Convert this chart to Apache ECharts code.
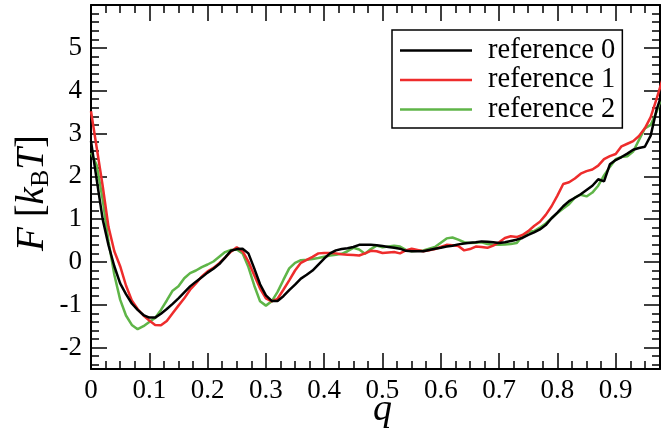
<!DOCTYPE html>
<html>
<head>
<meta charset="utf-8">
<script src="https://cdn.jsdelivr.net/npm/echarts@6/dist/echarts.min.js"></script>
<style>
html,body{margin:0;padding:0;background:#fff;}
#chart{width:661px;height:436px;}
</style>
</head>
<body>
<div id="chart"></div>
<script>
const q = [0,0.01,0.02,0.03,0.04,0.05,0.06,0.07,0.08,0.09,
0.10,0.11,0.12,0.13,0.14,0.15,0.16,0.17,0.18,0.19,
0.20,0.21,0.22,0.23,0.24,0.25,0.26,0.27,0.28,0.29,
0.30,0.31,0.32,0.33,0.34,0.35,0.36,0.37,0.38,0.39,
0.40,0.41,0.42,0.43,0.44,0.45,0.46,0.47,0.48,0.49,
0.50,0.51,0.52,0.53,0.54,0.55,0.56,0.57,0.58,0.59,
0.60,0.61,0.62,0.63,0.64,0.65,0.66,0.67,0.68,0.69,
0.70,0.71,0.72,0.73,0.74,0.75,0.76,0.77,0.78,0.79,
0.80,0.81,0.82,0.83,0.84,0.85,0.86,0.87,0.88,0.89,
0.90,0.91,0.92,0.93,0.94,0.95,0.96,0.97,0.98];

const ref0 = [2.82,1.90,1.00,0.39,-0.10,-0.50,-0.75,-0.97,-1.12,-1.24,
-1.30,-1.30,-1.21,-1.10,-0.98,-0.85,-0.71,-0.57,-0.46,-0.36,
-0.25,-0.16,-0.05,0.10,0.26,0.30,0.31,0.20,-0.15,-0.52,
-0.78,-0.91,-0.91,-0.80,-0.66,-0.53,-0.39,-0.30,-0.20,-0.06,
0.08,0.20,0.27,0.30,0.32,0.35,0.40,0.40,0.40,0.39,
0.37,0.35,0.33,0.31,0.26,0.25,0.25,0.25,0.28,0.31,
0.33,0.36,0.38,0.41,0.43,0.45,0.46,0.48,0.47,0.46,
0.44,0.46,0.49,0.52,0.56,0.63,0.69,0.76,0.86,1.02,
1.15,1.30,1.42,1.50,1.58,1.68,1.78,1.93,1.88,2.28,
2.38,2.45,2.53,2.62,2.66,2.69,2.95,3.55,3.95];

const ref1 = [3.52,2.65,1.78,0.82,0.25,-0.10,-0.55,-0.90,-1.10,-1.25,
-1.37,-1.47,-1.48,-1.38,-1.20,-1.02,-0.85,-0.65,-0.50,-0.34,
-0.22,-0.14,-0.03,0.10,0.24,0.34,0.25,0.01,-0.31,-0.62,
-0.85,-0.92,-0.86,-0.65,-0.43,-0.20,-0.02,0.05,0.12,0.20,
0.21,0.21,0.20,0.18,0.17,0.16,0.15,0.20,0.26,0.25,
0.21,0.22,0.23,0.20,0.27,0.31,0.28,0.25,0.27,0.30,
0.35,0.40,0.39,0.37,0.27,0.30,0.36,0.35,0.33,0.38,
0.46,0.56,0.60,0.58,0.63,0.72,0.84,0.94,1.10,1.30,
1.55,1.82,1.86,1.95,2.06,2.12,2.16,2.25,2.40,2.47,
2.52,2.70,2.76,2.82,2.94,3.12,3.38,3.80,4.25];

const ref2 = [2.55,2.25,1.46,0.48,-0.30,-0.88,-1.25,-1.47,-1.57,-1.50,
-1.40,-1.31,-1.12,-0.90,-0.67,-0.57,-0.38,-0.26,-0.20,-0.12,
-0.06,0.01,0.12,0.23,0.28,0.29,0.20,-0.12,-0.55,-0.92,
-1.02,-0.92,-0.70,-0.42,-0.15,-0.02,0.04,0.05,0.07,0.09,
0.12,0.15,0.17,0.19,0.25,0.33,0.29,0.19,0.30,0.38,
0.34,0.36,0.38,0.36,0.28,0.25,0.26,0.27,0.31,0.35,
0.45,0.55,0.57,0.52,0.46,0.44,0.45,0.46,0.42,0.40,
0.40,0.41,0.42,0.44,0.60,0.70,0.72,0.80,0.90,1.02,
1.14,1.25,1.35,1.50,1.57,1.53,1.62,1.78,2.02,2.22,
2.40,2.45,2.47,2.58,2.85,3.12,3.20,3.50,3.90];

const seriesNames = ['reference 0','reference 1','reference 2'];
const xTicks = [0,0.1,0.2,0.3,0.4,0.5,0.6,0.7,0.8,0.9];
const yTicks = [-2,-1,0,1,2,3,4,5];
const xMin = 0, xMax = 0.976, yMin = -2.5, yMax = 6;

const xMinor = [];
for (let i = 1; i * 0.025 < xMax; i++) xMinor.push(+(i * 0.025).toFixed(3));
const yMinor = [];
for (let i = -12; i * 0.2 < yMax; i++) yMinor.push(+(i * 0.2).toFixed(2));

const FONT = 'Liberation Serif';
const lineC = '#000';

function mkX(pos, ticks, len, showLine, showLabel) {
  return {
    type: 'value', position: pos, min: xMin, max: xMax,
    splitLine: {show: false},
    axisLine: {show: showLine, onZero: false, lineStyle: {color: lineC, width: 2}},
    axisTick: {show: true, inside: true, length: len, customValues: ticks, lineStyle: {color: lineC, width: 1.5}},
    axisLabel: showLabel ? {show: true, customValues: xTicks, margin: 8,
      formatter: v => (v === 0 ? '0' : v.toFixed(1)),
      fontFamily: FONT, fontSize: 27, color: '#000'} : {show: false},
    name: showLabel ? 'q' : '', nameLocation: 'middle', nameGap: 22, nameMoveOverlap: false,
    nameTextStyle: {fontFamily: FONT, fontStyle: 'italic', fontSize: 38, color: '#000', padding: [0, 0, 0, 14]}
  };
}
function mkY(pos, ticks, len, showLine, showLabel) {
  return {
    type: 'value', position: pos, min: yMin, max: yMax,
    splitLine: {show: false},
    axisLine: {show: showLine, onZero: false, lineStyle: {color: lineC, width: 2}},
    axisTick: {show: true, inside: true, length: len, customValues: ticks, lineStyle: {color: lineC, width: 1.5}},
    axisLabel: showLabel ? {show: true, customValues: yTicks, margin: 9,
      formatter: v => String(v),
      fontFamily: FONT, fontSize: 27, color: '#000'} : {show: false},
    name: showLabel ? '{i|F} [{i|k}{s|B}{i|T}]' : '', nameLocation: 'middle', nameGap: 37, nameRotate: 90,
    nameMoveOverlap: false,
    nameTextStyle: {fontFamily: FONT, fontSize: 39, color: '#000', padding: [0, 12, 0, 0],
      rich: {
        i: {fontFamily: FONT, fontStyle: 'italic', fontSize: 39, lineHeight: 42, color: '#000'},
        s: {fontFamily: FONT, fontSize: 26, lineHeight: 26, verticalAlign: 'bottom', color: '#000'}
      }}
  };
}

const colors = ['#000000', '#ee2c2c', '#5fb548'];
const series = [ref0, ref1, ref2].map((arr, k) => ({
  name: seriesNames[k], type: 'line', xAxisIndex: 0, yAxisIndex: 0,
  data: q.map((x, i) => [x, arr[i]]),
  symbol: 'none', clip: true, smooth: false,
  lineStyle: {color: colors[k], width: 2.5}, itemStyle: {color: colors[k]},
  z: 3 - k
}));

const chart = echarts.init(document.getElementById('chart'), null, {renderer: 'canvas'});
chart.setOption({
  animation: false,
  backgroundColor: '#fff',
  grid: {left: 91, right: 1, top: 5, bottom: 67, containLabel: false, outerBoundsMode: 'none'},
  xAxis: [
    mkX('bottom', xTicks, 16, true, true),
    mkX('bottom', xMinor, 8, false, false),
    mkX('top', xTicks, 16, true, false),
    mkX('top', xMinor, 8, false, false)
  ],
  yAxis: [
    mkY('left', yTicks, 16, true, true),
    mkY('left', yMinor, 8, false, false),
    mkY('right', yTicks, 16, true, false),
    mkY('right', yMinor, 8, false, false)
  ],
  legend: {
    orient: 'vertical', left: 392, top: 30,
    data: seriesNames.map(n => ({name: n, icon: 'rect'})),
    itemWidth: 72, itemHeight: 2.5, itemGap: 0.5,
    padding: [6, 7, 4, 8],
    borderColor: '#000', borderWidth: 1.5, backgroundColor: '#fff',
    textStyle: {fontFamily: FONT, fontSize: 28.5, lineHeight: 28, color: '#000', padding: [0, 0, 0, 11]}
  },
  series: series
});
</script>
</body>
</html>
